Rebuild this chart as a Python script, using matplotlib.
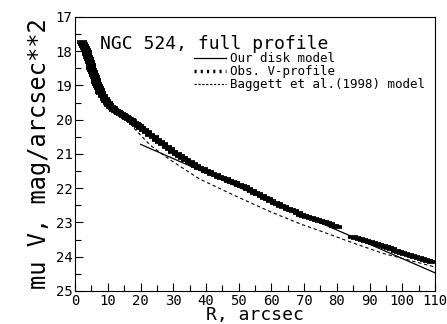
import numpy as np
import matplotlib.pyplot as plt
from matplotlib.lines import Line2D

plt.rcParams['font.family'] = ['DejaVu Sans Mono', 'DejaVu Sans']

# Observed V-profile (inner part up to 80", outer part from 85")
r_obs1 = [2.25, 2.5, 2.75, 3.0, 3.25, 3.5, 3.75, 4.0, 4.25, 4.5, 4.75, 5.0, 5.25, 5.5,
          5.75, 6.0, 6.25, 6.5, 6.75, 7.0, 7.25, 7.5, 7.75, 8.0, 8.5, 9.0, 9.5,
          10, 10.5, 11, 11.5, 12, 12.5, 13, 13.5, 14, 14.5, 15, 15.5, 16, 16.5, 17, 17.5,
          18, 18.5, 19, 19.5, 20, 21, 22, 23, 24, 25, 26, 27, 28, 29,
          30, 31, 32, 33, 34, 35, 36, 37, 38, 39, 40, 41, 42, 43, 44, 45, 46, 47, 48, 49,
          50, 51, 52, 53, 54, 55, 56, 57, 58, 59, 60, 61, 62, 63, 64, 65, 66, 67, 68, 69,
          70, 71, 72, 73, 74, 75, 76, 77, 78, 79, 80]
mu_obs1 = [17.74, 17.79, 17.84, 17.90, 17.96, 18.02, 18.09, 18.16, 18.24, 18.32, 18.40,
           18.48, 18.55, 18.62, 18.69, 18.76, 18.83, 18.90, 18.96, 19.02, 19.08, 19.13,
           19.18, 19.22, 19.31, 19.39, 19.46,
           19.52, 19.57, 19.62, 19.67, 19.71, 19.75, 19.78, 19.81, 19.84, 19.87, 19.90,
           19.93, 19.96, 19.99, 20.02, 20.05, 20.09, 20.12, 20.16, 20.19,
           20.23, 20.30, 20.37, 20.44, 20.51, 20.58, 20.65, 20.72, 20.79, 20.86,
           20.93, 20.99, 21.05, 21.11, 21.17, 21.23, 21.29, 21.35, 21.40, 21.45,
           21.50, 21.54, 21.58, 21.62, 21.66, 21.70, 21.74, 21.78, 21.82, 21.86,
           21.90, 21.94, 21.98, 22.03, 22.08, 22.13, 22.18, 22.23, 22.28, 22.33,
           22.38, 22.42, 22.47, 22.51, 22.56, 22.60, 22.64, 22.68, 22.73, 22.77,
           22.81, 22.85, 22.88, 22.91, 22.94, 22.97, 23.00, 23.03, 23.06, 23.09, 23.12]
r_obs2 = [85, 86, 87, 88, 89, 90, 91, 92, 93, 94, 95, 96, 97, 98, 99, 100, 101, 102,
          103, 104, 105, 106, 107, 108, 109]
mu_obs2 = [23.42, 23.45, 23.48, 23.51, 23.54, 23.58, 23.61, 23.64, 23.67, 23.70, 23.73,
           23.76, 23.79, 23.82, 23.85, 23.88, 23.91, 23.94, 23.97, 24.00, 24.03, 24.06,
           24.09, 24.12, 24.15]

# Our disk model (straight line in magnitudes)
r_disk = [20, 110]
mu_disk = [20.72, 24.47]

# Baggett et al. (1998) model
r_bag = [18, 23, 29, 38, 50, 60, 69, 75, 85, 94, 102, 110]
mu_bag = [20.25, 20.75, 21.17, 21.73, 22.27, 22.7, 23.05, 23.25, 23.6, 23.9, 24.1, 24.3]

fig = plt.figure(figsize=(4.47, 3.24), dpi=100)
ax = fig.add_axes([0.168, 0.102, 0.805, 0.846])

ax.plot(r_obs1, mu_obs1, ls='none', marker='_', ms=7, mew=2.7, color='k')
ax.plot(r_obs2, mu_obs2, ls='none', marker='_', ms=7, mew=2.7, color='k')
ax.plot(r_disk, mu_disk, color='k', lw=0.9)
ax.plot(r_bag, mu_bag, color='k', lw=0.8, ls=(0, (3, 2.5)))

ax.set_xlim(0, 110)
ax.set_ylim(25, 17)
ax.set_xticks(np.arange(0, 111, 10))
ax.set_xticks(np.arange(5, 110, 10), minor=True)
ax.set_yticks(np.arange(17, 26, 1))
ax.set_yticks(np.arange(17.5, 25, 1), minor=True)
ax.tick_params(direction='in', which='major', length=6, width=0.8, labelsize=10, pad=2)
ax.tick_params(direction='in', which='minor', length=4, width=0.8)
ax.tick_params(top=False, right=False)

ax.set_xlabel('R, arcsec', fontsize=13, labelpad=-1)
ax.set_ylabel('mu V, mag/arcsec**2', fontsize=17, labelpad=3)

ax.text(0.07, 0.9, 'NGC 524, full profile', transform=ax.transAxes,
        fontsize=13, va='center', ha='left')

handles = [Line2D([], [], color='k', lw=0.9),
           Line2D([], [], color='k', lw=2.5, ls=(0, (0.6, 1.2))),
           Line2D([], [], color='k', lw=0.8, ls=(0, (2, 1.5)))]
labels = ['Our disk model', 'Obs. V-profile', 'Baggett et al.(1998) model']
ax.legend(handles, labels, loc='upper left', bbox_to_anchor=(0.33, 0.87),
          frameon=False, fontsize=9, handlelength=2.6, handletextpad=0.3,
          labelspacing=0.0, borderpad=0, borderaxespad=0)

fig.savefig('out.png', dpi=100)
